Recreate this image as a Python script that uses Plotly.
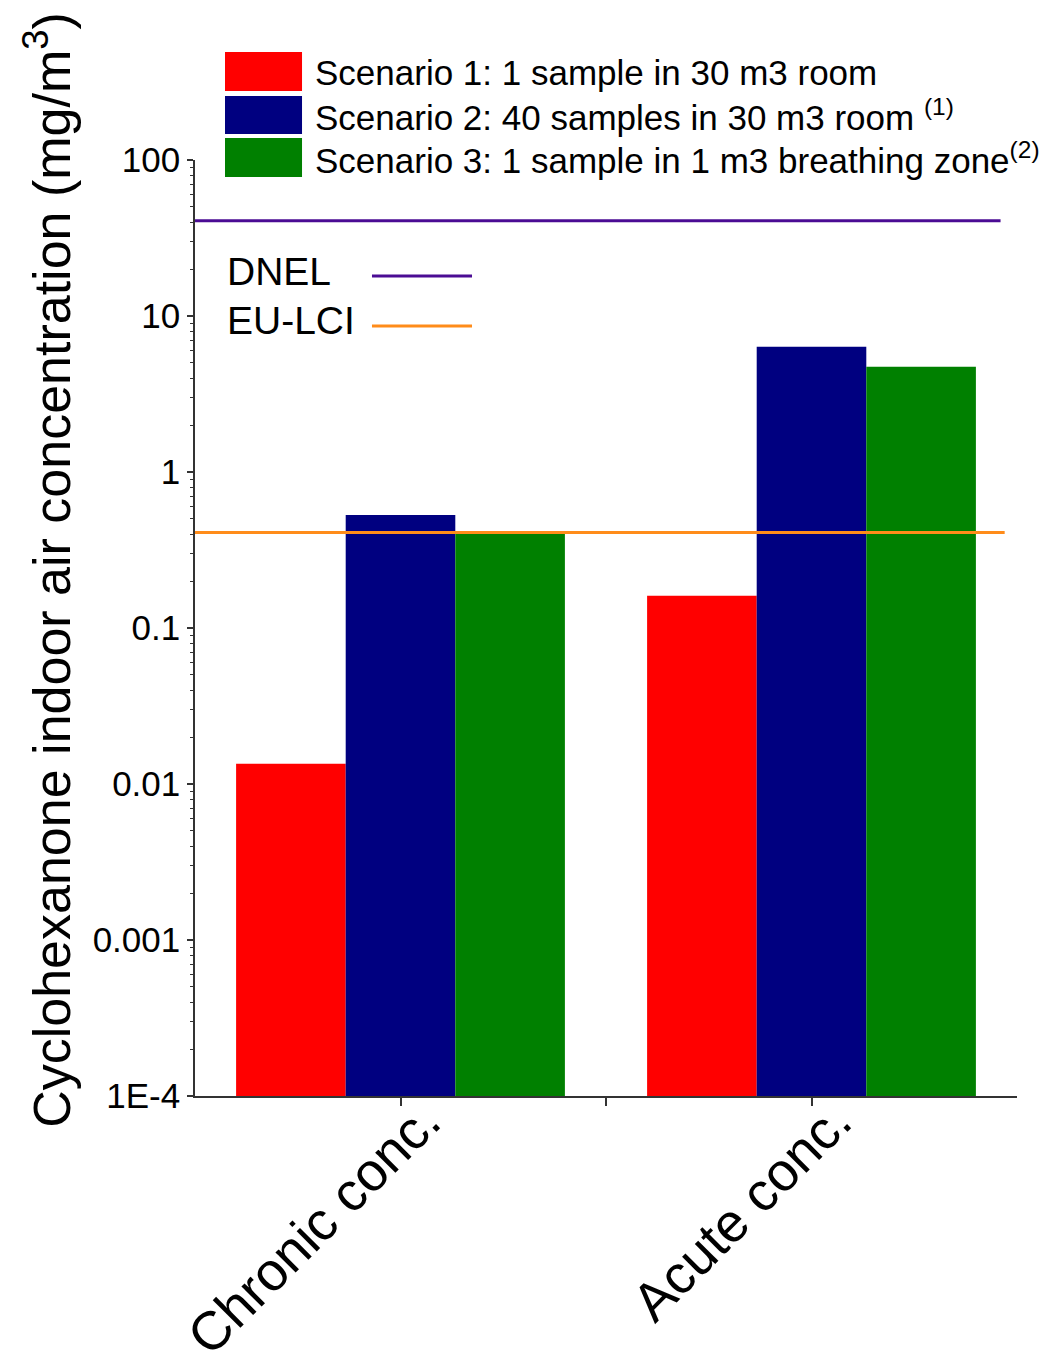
import plotly.graph_objects as go

# ---- data ----
categories = ["Chronic conc.", "Acute conc."]
scenario_names = [
    "Scenario 1: 1 sample in 30 m3 room",
    "Scenario 2: 40 samples in 30 m3 room <sup>(1)</sup>",
    "Scenario 3: 1 sample in 1 m3 breathing zone<sup>(2)</sup>",
]
scenario1 = [0.0135, 0.161]
scenario2 = [0.53, 6.35]
scenario3 = [0.40, 4.72]
dnel_value = 40.8
eulci_value = 0.41
ytick_vals = [1e-4, 1e-3, 1e-2, 1e-1, 1, 10, 100]
ytick_text = ["1E-4", "0.001", "0.01", "0.1", "1", "10", "100"]

colors = ["#FF0000", "#000080", "#008000"]
dnel_color = "#4B0C94"
eulci_color = "#FF8C1A"
FONT = "Liberation Sans, Arial, sans-serif"

x_pos = list(range(len(categories)))
x_range = [-0.5, len(categories) - 0.5]

fig = go.Figure()
for name, vals, col in zip(scenario_names, [scenario1, scenario2, scenario3], colors):
    fig.add_trace(go.Bar(x=x_pos, y=vals, name=name, marker=dict(color=col, line=dict(width=0)),
                         showlegend=False))

# threshold lines
fig.add_trace(go.Scatter(x=[x_range[0], x_range[1] - 0.04], y=[dnel_value, dnel_value], mode="lines",
                         line=dict(color=dnel_color, width=3), showlegend=False, name="DNEL"))
fig.add_trace(go.Scatter(x=[x_range[0], x_range[1] - 0.03], y=[eulci_value, eulci_value], mode="lines",
                         line=dict(color=eulci_color, width=3), showlegend=False, name="EU-LCI"))

# minor log ticks
minor_vals = []
for e in range(-4, 2):
    for d in range(2, 10):
        minor_vals.append(d * 10 ** e)

fig.update_layout(
    width=1042, height=1344,
    margin=dict(l=187, r=33, t=152, b=256),
    paper_bgcolor="white", plot_bgcolor="white",
    barmode="group", bargap=0.2, bargroupgap=0,
    font=dict(family=FONT, color="black"),
    xaxis=dict(
        range=x_range, tickvals=x_pos, ticktext=categories, tickangle=-45,
        tickfont=dict(size=54, family=FONT, color="black"),
        ticklabelstandoff=-38, ticklabelshift=24,
        showline=True, linecolor="#333333", linewidth=1.5,
        ticks="outside", ticklen=8, tickwidth=1.5, tickcolor="#333333",
        showgrid=False, zeroline=False, automargin=False,
        minor=dict(tickvals=[0.5], ticks="outside", ticklen=8, tickwidth=1.5, tickcolor="#333333", showgrid=False),
    ),
    yaxis=dict(
        type="log", range=[-4, 2], tickvals=ytick_vals, ticktext=ytick_text,
        tickfont=dict(size=35, family=FONT, color="black"),
        showline=True, linecolor="#333333", linewidth=1.5,
        ticks="outside", ticklen=6, tickwidth=1.5, tickcolor="#333333",
        showgrid=False, zeroline=False, automargin=False,
        minor=dict(tickvals=minor_vals, ticks="outside", ticklen=3, tickwidth=1, tickcolor="#333333", showgrid=False),
    ),
)

# y-axis title as annotation
fig.add_annotation(
    text="Cyclohexanone indoor air concentration (mg/m<sup>3</sup>)",
    xref="paper", yref="paper", x=-0.179, y=0.562, textangle=-90,
    showarrow=False, xanchor="center", yanchor="middle",
    font=dict(size=52, family=FONT, color="black"),
)

# custom legend for scenarios
sw_x0, sw_x1 = 0.0365, 0.1302
sw_rows = [(1.0737, 1.1154), (1.0278, 1.0684), (0.9818, 1.0235)]
txt_y = [1.094, 1.048, 1.002]
for (y0, y1), col, name, ty in zip(sw_rows, colors, scenario_names, txt_y):
    fig.add_shape(type="rect", xref="paper", yref="paper", x0=sw_x0, x1=sw_x1, y0=y0, y1=y1,
                  fillcolor=col, line=dict(width=0))
    fig.add_annotation(text=name, xref="paper", yref="paper", x=0.1436, y=ty, xanchor="left",
                       yanchor="middle", showarrow=False, font=dict(size=35, family=FONT, color="black"))

# custom legend for limit lines
for label, col, ty, ly in [("DNEL", dnel_color, 0.8814, 0.8761), ("EU-LCI", eulci_color, 0.829, 0.8226)]:
    fig.add_annotation(text=label, xref="paper", yref="paper", x=0.0365, y=ty, xanchor="left",
                       yanchor="middle", showarrow=False, font=dict(size=39, family=FONT, color="black"))
    fig.add_shape(type="line", xref="paper", yref="paper", x0=0.2153, x1=0.337, y0=ly, y1=ly,
                  line=dict(color=col, width=3))

fig.write_html("out.html")
